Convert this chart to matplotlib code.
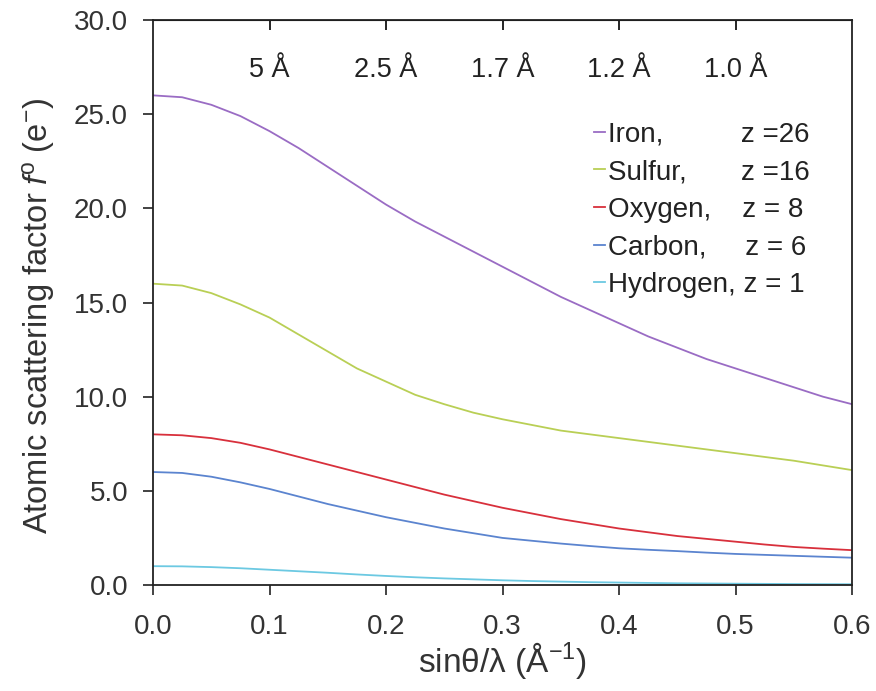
import matplotlib
matplotlib.use("Agg")
import matplotlib.pyplot as plt

plt.rcParams['font.family'] = ['Liberation Sans', 'DejaVu Sans']
plt.rcParams['mathtext.fontset'] = 'custom'
plt.rcParams['mathtext.rm'] = 'Liberation Sans'
plt.rcParams['mathtext.it'] = 'Liberation Sans:italic'

# sin(theta)/lambda values (1/A)
s = [0.0, 0.025, 0.05, 0.075, 0.1, 0.125, 0.15, 0.175, 0.2, 0.225, 0.25, 0.275,
     0.3, 0.325, 0.35, 0.375, 0.4, 0.425, 0.45, 0.475, 0.5, 0.525, 0.55, 0.575, 0.6]

iron = [26.0, 25.9, 25.5, 24.9, 24.1, 23.2, 22.2, 21.2, 20.2, 19.3, 18.5, 17.7,
        16.9, 16.1, 15.3, 14.6, 13.9, 13.2, 12.6, 12.0, 11.5, 11.0, 10.5, 10.0, 9.6]
sulfur = [16.0, 15.9, 15.5, 14.9, 14.2, 13.3, 12.4, 11.5, 10.8, 10.1, 9.6, 9.15,
          8.8, 8.5, 8.2, 8.0, 7.8, 7.6, 7.4, 7.2, 7.0, 6.8, 6.6, 6.35, 6.1]
oxygen = [8.0, 7.95, 7.8, 7.55, 7.2, 6.8, 6.4, 6.0, 5.6, 5.2, 4.8, 4.45,
          4.1, 3.8, 3.5, 3.25, 3.0, 2.8, 2.6, 2.45, 2.3, 2.15, 2.02, 1.93, 1.85]
carbon = [6.0, 5.95, 5.75, 5.45, 5.1, 4.7, 4.3, 3.95, 3.6, 3.3, 3.0, 2.75,
          2.5, 2.35, 2.2, 2.07, 1.95, 1.87, 1.8, 1.72, 1.65, 1.6, 1.55, 1.5, 1.45]
hydrogen = [1.0, 0.99, 0.95, 0.89, 0.81, 0.73, 0.65, 0.56, 0.48, 0.41, 0.35, 0.3,
            0.25, 0.21, 0.18, 0.15, 0.13, 0.11, 0.09, 0.08, 0.07, 0.06, 0.05, 0.045, 0.04]

labels = ["Iron," + " " * 10 + "z =26",
          "Sulfur," + " " * 7 + "z =16",
          "Oxygen," + " " * 4 + "z = 8",
          "Carbon," + " " * 5 + "z = 6",
          "Hydrogen, z = 1"]
colors = ["#9a6cc4", "#b9cf55", "#d8303c", "#5b84cf", "#6cc9e2"]

top_ticks = [0.1, 0.2, 0.3, 0.4, 0.5]
top_labels = ["5 Å", "2.5 Å", "1.7 Å", "1.2 Å", "1.0 Å"]

fig = plt.figure(figsize=(8.76, 6.91), dpi=100)
ax = fig.add_axes([0.1747, 0.1534, 0.798, 0.8176])

for y, lab, c in zip([iron, sulfur, oxygen, carbon, hydrogen], labels, colors):
    ax.plot(s, y, color=c, lw=1.3, label=lab)

ax.set_xlim(0, 0.6)
ax.set_ylim(0, 30)
ax.set_xticks([0.0, 0.1, 0.2, 0.3, 0.4, 0.5, 0.6])
ax.set_xticklabels(["0.0", "0.1", "0.2", "0.3", "0.4", "0.5", "0.6"])
ax.set_yticks([0, 5, 10, 15, 20, 25, 30])
ax.set_yticklabels(["0.0", "5.0", "10.0", "15.0", "20.0", "25.0", "30.0"])
ax.tick_params(axis='both', labelsize=20, length=7, width=1.2, color='#222222',
               labelcolor='#333333')
ax.tick_params(axis='x', pad=14)
ax.tick_params(axis='y', pad=11)
for sp in ax.spines.values():
    sp.set_linewidth(1.3)
    sp.set_color('#222222')

secax = ax.secondary_xaxis('top')
secax.set_xticks(top_ticks)
secax.set_xticklabels(top_labels)
secax.tick_params(direction='in', length=7, width=1.2, labelsize=19.5,
                  pad=-45, labelcolor='#222222')

ax.set_xlabel("sinθ/λ (Å$^{-1}$)", fontsize=24, color='#333333', labelpad=0)
ax.set_ylabel("Atomic scattering factor $\\it{f}$$^{\\rm o}$ (e$^{-}$)", fontsize=23.5,
              color='#333333')
ax.yaxis.set_label_coords(-0.137, 0.476)

leg = ax.legend(loc='upper left', bbox_to_anchor=(0.615, 0.84), frameon=False,
                fontsize=20, handlelength=0.4, handletextpad=0.1,
                labelspacing=0.42, borderaxespad=0)
for t in leg.get_texts():
    t.set_color('#222222')

fig.savefig("out.png", dpi=100)
